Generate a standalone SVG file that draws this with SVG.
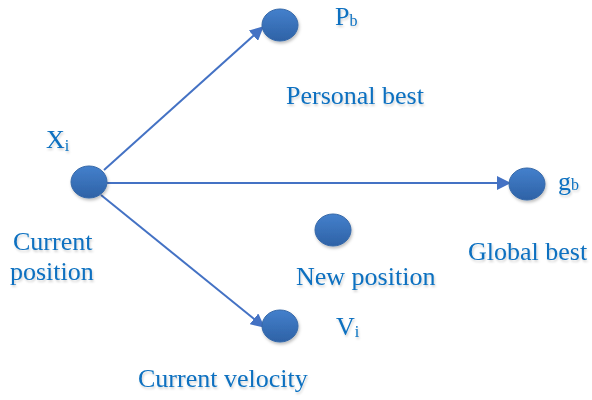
<svg xmlns="http://www.w3.org/2000/svg" width="592" height="400" viewBox="0 0 592 400">
<style>
.t{font-family:'Liberation Serif','Times New Roman',serif;fill:#0A70C0;font-size:26px}
.s{font-size:16px}
.n{fill:url(#g);stroke:#3568A8;stroke-width:1}
.c{stroke:#4472C4;stroke-width:2;fill:none;marker-end:url(#a)}
</style>
<defs>
<linearGradient id="g" x1="0" y1="0" x2="0" y2="1">
<stop offset="0" stop-color="#4480CC"/>
<stop offset="1" stop-color="#2E62A6"/>
</linearGradient>
<marker id="a" markerWidth="14" markerHeight="14" refX="13" refY="7" orient="auto" markerUnits="userSpaceOnUse" viewBox="0 0 14 14">
<path d="M0,0 L14,7 L0,14 z" fill="#4472C4"/>
</marker>
<filter id="sh" x="-30%" y="-30%" width="160%" height="170%">
<feDropShadow dx="1" dy="2" stdDeviation="1.5" flood-color="#000" flood-opacity="0.25"/>
</filter>
<filter id="ts" x="-10%" y="-30%" width="120%" height="170%">
<feDropShadow dx="1" dy="2" stdDeviation="1" flood-color="#000" flood-opacity="0.18"/>
</filter>
</defs>
<g id="connectors">
<line class="c" x1="104" y1="170" x2="263" y2="27"/>
<line class="c" x1="107" y1="183" x2="510" y2="183"/>
<line class="c" x1="101" y1="195" x2="264" y2="327"/>
</g>
<g id="xi" filter="url(#sh)"><ellipse class="n" cx="89" cy="182" rx="18" ry="16"/></g>
<g id="pb" filter="url(#sh)"><ellipse class="n" cx="280" cy="25" rx="18" ry="16"/></g>
<g id="gb" filter="url(#sh)"><ellipse class="n" cx="527" cy="184" rx="18" ry="16"/></g>
<g id="newpos" filter="url(#sh)"><ellipse class="n" cx="333" cy="230" rx="18" ry="16"/></g>
<g id="vi" filter="url(#sh)"><ellipse class="n" cx="280" cy="326" rx="18" ry="16"/></g>
<g id="labels" filter="url(#ts)">
<text class="t" x="46" y="148">X<tspan class="s" dy="3">i</tspan></text>
<text class="t" x="335" y="25">P<tspan class="s" dy="1">b</tspan></text>
<text class="t" x="558" y="190">g<tspan class="s">b</tspan></text>
<text class="t" x="336" y="335">V<tspan class="s" dy="2">i</tspan></text>
<text class="t" x="286" y="104">Personal best</text>
<text class="t" x="13" y="250">Current</text>
<text class="t" x="10" y="280">position</text>
<text class="t" x="296" y="285">New position</text>
<text class="t" x="468" y="260">Global best</text>
<text class="t" x="138" y="387">Current velocity</text>
</g>
</svg>
